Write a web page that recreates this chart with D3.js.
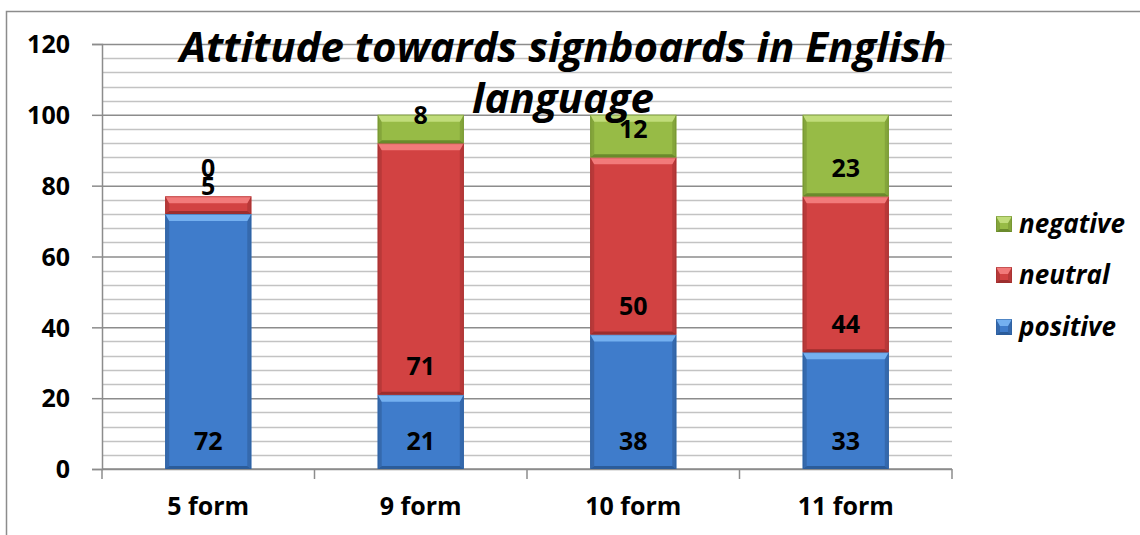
<!DOCTYPE html>
<html>
<head>
<meta charset="utf-8">
<script src="https://cdn.jsdelivr.net/npm/d3@7"></script>
<style>
  body { margin: 0; background: #fff; }
  svg text { font-family: "Open Sans", Lato, sans-serif; font-weight: bold; fill: #000; }
</style>
</head>
<body>
<div id="chart"></div>
<script>
// chart data
var forms = ["5 form", "9 form", "10 form", "11 form"];
var seriesNames = ["positive", "neutral", "negative"];
var positive = [72, 21, 38, 33];
var neutral = [5, 71, 50, 44];
var negative = [0, 8, 12, 23];
var yTicks = [0, 20, 40, 60, 80, 100, 120];

var W = 1140, H = 535;
var plot = { left: 102, right: 952, top: 44, bottom: 469 };

var colors = {
    positive: { main: "#3f7ccb", light: "#74b0f0", dark: "#2b5c9a", side: "#3569ad" },
    neutral: { main: "#d24242", light: "#f27a7a", dark: "#9c2e2e", side: "#b83939" },
    negative: { main: "#97bb46", light: "#c0dc7a", dark: "#6a8a2c", side: "#84a53b" }
};

var svg = d3.select("#chart").append("svg")
    .attr("width", W)
    .attr("height", H);

// outer frame
svg.append("path")
    .attr("d", "M6.5," + H + "V11.5H" + W)
    .attr("fill", "none")
    .attr("stroke", "#8c8c8c")
    .attr("stroke-width", 1.5);

var x = d3.scaleBand()
    .domain(forms)
    .range([plot.left, plot.right])
    .paddingInner(0.595)
    .paddingOuter(0.2975);

var y = d3.scaleLinear()
    .domain([0, 120])
    .range([plot.bottom, plot.top]);

// minor gridlines
svg.append("g")
    .selectAll("line")
    .data(d3.range(0, 121, 4).filter(function (d) { return d % 20 != 0; }))
    .enter().append("line")
    .attr("x1", plot.left).attr("x2", plot.right)
    .attr("y1", function (d) { return Math.round(y(d)) + 0.5; })
    .attr("y2", function (d) { return Math.round(y(d)) + 0.5; })
    .attr("stroke", "#c3c3c3")
    .attr("stroke-width", 1.5);

// y axis with major gridlines
var yAxis = svg.append("g")
    .attr("transform", "translate(" + plot.left + ",0)")
    .call(d3.axisLeft(y).tickValues(yTicks).tickSize(10).tickPadding(22));
yAxis.select(".domain").attr("stroke", "#8c8c8c").attr("stroke-width", 1.5);
yAxis.selectAll(".tick line").attr("stroke", "#8c8c8c").attr("stroke-width", 1.5);
yAxis.selectAll(".tick text")
    .style("font-size", "25px")
    .attr("dy", "0.35em");
yAxis.selectAll(".tick")
    .append("line")
    .attr("x1", 0).attr("x2", plot.right - plot.left)
    .attr("stroke", "#8c8c8c")
    .attr("stroke-width", 1.5);

// x axis
var xAxis = svg.append("g")
    .attr("transform", "translate(0," + plot.bottom + ")");
xAxis.append("line")
    .attr("x1", plot.left).attr("x2", plot.right)
    .attr("stroke", "#8c8c8c").attr("stroke-width", 1.5);
xAxis.selectAll(".sep")
    .data(d3.range(forms.length + 1))
    .enter().append("line")
    .attr("x1", function (i) { return plot.left + i * x.step(); })
    .attr("x2", function (i) { return plot.left + i * x.step(); })
    .attr("y1", 0).attr("y2", 10)
    .attr("stroke", "#8c8c8c").attr("stroke-width", 1.5);
xAxis.selectAll(".lbl")
    .data(forms)
    .enter().append("text")
    .attr("x", function (d) { return x(d) + x.bandwidth() / 2; })
    .attr("y", 46)
    .attr("text-anchor", "middle")
    .style("font-size", "25px")
    .text(function (d) { return d; });

// stack data
var rows = forms.map(function (f, i) {
    return { form: f, positive: positive[i], neutral: neutral[i], negative: negative[i] };
});
var stacked = d3.stack().keys(seriesNames)(rows);

// bevelled segment
function bevel(g, x0, y0, w, h, c) {
    var b = Math.min(7, h / 2), s = 4, bb = Math.min(3, h / 3);
    g.append("rect").attr("x", x0).attr("y", y0).attr("width", w).attr("height", h).attr("fill", c.main);
    // sides
    g.append("path").attr("fill", c.side)
        .attr("d", "M" + x0 + "," + y0 + "L" + (x0 + s) + "," + (y0 + b) + "L" + (x0 + s) + "," + (y0 + h - bb) + "L" + x0 + "," + (y0 + h) + "Z");
    g.append("path").attr("fill", c.side)
        .attr("d", "M" + (x0 + w) + "," + y0 + "L" + (x0 + w - s) + "," + (y0 + b) + "L" + (x0 + w - s) + "," + (y0 + h - bb) + "L" + (x0 + w) + "," + (y0 + h) + "Z");
    // top
    g.append("path").attr("fill", c.light)
        .attr("d", "M" + x0 + "," + y0 + "L" + (x0 + w) + "," + y0 + "L" + (x0 + w - s) + "," + (y0 + b) + "L" + (x0 + s) + "," + (y0 + b) + "Z");
    // bottom
    g.append("path").attr("fill", c.dark)
        .attr("d", "M" + x0 + "," + (y0 + h) + "L" + (x0 + w) + "," + (y0 + h) + "L" + (x0 + w - s) + "," + (y0 + h - bb) + "L" + (x0 + s) + "," + (y0 + h - bb) + "Z");
    g.append("rect").attr("x", x0 + 0.5).attr("y", y0 + 0.5).attr("width", w - 1).attr("height", Math.max(0, h - 1))
        .attr("fill", "none").attr("stroke", c.dark).attr("stroke-opacity", 0.5);
}

var bars = svg.append("g");
stacked.forEach(function (layer) {
    layer.forEach(function (d) {
        var h = y(d[0]) - y(d[1]);
        if (h > 0) {
            bevel(bars, x(d.data.form), y(d[1]), x.bandwidth(), h, colors[layer.key]);
        }
    });
});

// data labels (inside base)
stacked.forEach(function (layer) {
    svg.append("g").selectAll("text")
        .data(layer)
        .enter().append("text")
        .attr("x", function (d) { return x(d.data.form) + x.bandwidth() / 2; })
        .attr("y", function (d) { return y(d[0]) - 28; })
        .attr("dy", "0.35em")
        .attr("text-anchor", "middle")
        .style("font-size", "25px")
        .text(function (d) { return d.data[layer.key]; });
});

// title
var title = svg.append("text")
    .attr("x", 563)
    .attr("text-anchor", "middle")
    .style("font-size", "42px")
    .style("font-style", "italic");
title.append("tspan").attr("x", 563).attr("y", 62).text("Attitude towards signboards in English");
title.append("tspan").attr("x", 563).attr("y", 113).text("language");

// legend
var legendKeys = ["negative", "neutral", "positive"];
var legendY = [224, 275, 327];
var legend = svg.append("g");
legendKeys.forEach(function (k, i) {
    var g = legend.append("g");
    bevel(g, 996, legendY[i] - 8, 16, 16, colors[k]);
    g.append("text")
        .attr("x", 1019)
        .attr("y", legendY[i])
        .attr("dy", "0.35em")
        .style("font-size", "26px")
        .style("font-style", "italic")
        .text(k);
});
</script>
</body>
</html>
